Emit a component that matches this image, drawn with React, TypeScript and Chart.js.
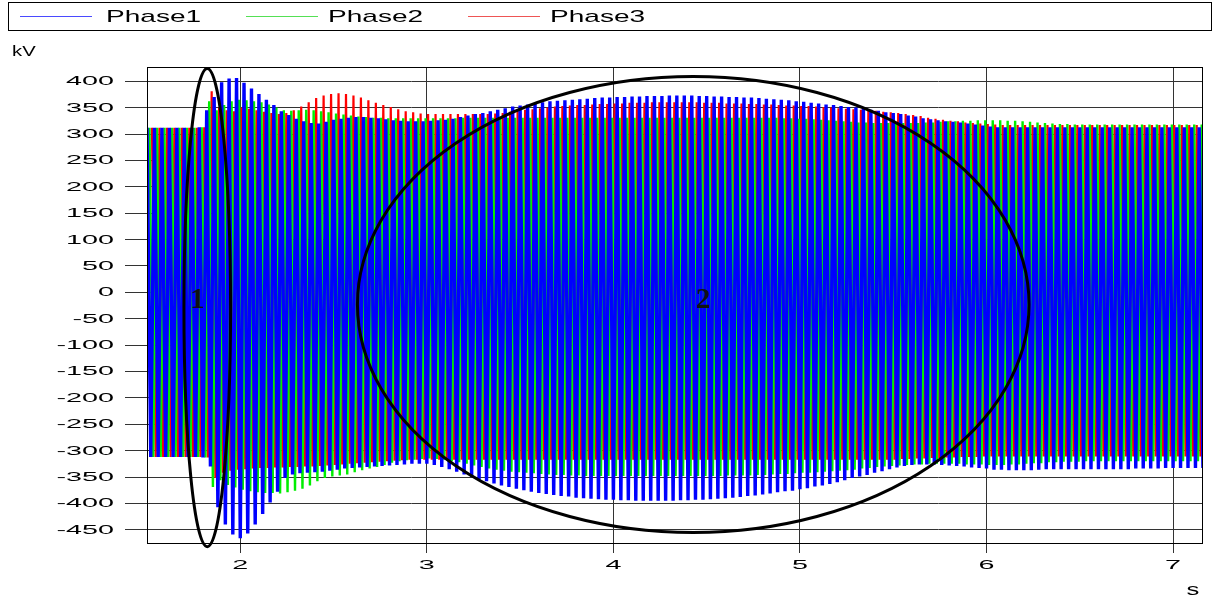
import React, { useEffect, useRef } from 'react';
import { Chart, registerables } from 'chart.js';

Chart.register(...registerables);

// Sampling grid of the envelope readings (s)
const sampleStart = 1.5;
const sampleStep = 0.04;

// Peak values (kV) read per sample, one positive and one negative peak per sample
const phase1Max = [
  312, 312, 312, 312, 312, 312, 312, 313, 345, 370,
  398, 405, 406, 397, 386, 376, 365, 355, 343, 336,
  329, 324, 321, 320, 323, 327, 329, 331, 332, 332,
  331, 330, 328, 326, 325, 324, 324, 324, 325, 326,
  327, 329, 332, 335, 338, 340, 343, 346, 349, 352,
  354, 356, 358, 360, 362, 363, 364, 365, 366, 367,
  368, 369, 369, 370, 370, 371, 371, 372, 372, 372,
  373, 373, 373, 373, 372, 372, 371, 371, 370, 370,
  369, 369, 368, 367, 366, 365, 364, 362, 361, 359,
  358, 356, 355, 353, 351, 350, 348, 346, 344, 341,
  340, 338, 335, 333, 330, 328, 326, 324, 323, 322,
  320, 318, 316, 314, 313, 313, 313, 313, 313, 313,
  313, 313, 313, 313, 313, 313, 313, 313, 313, 313,
  313, 313, 313, 313, 313, 313, 313, 313, 313, 313,
  313, 313,
];
const phase1Min = [
  -312, -312, -312, -312, -312, -312, -312, -313, -330, -407,
  -440, -459, -466, -457, -440, -420, -398, -378, -352, -345,
  -343, -342, -341, -340, -338, -336, -334, -333, -332, -331,
  -330, -329, -328, -327, -326, -325, -325, -325, -327, -331,
  -335, -340, -345, -350, -354, -358, -362, -366, -369, -372,
  -375, -378, -380, -382, -384, -386, -387, -389, -390, -391,
  -392, -393, -393, -394, -394, -395, -395, -395, -395, -395,
  -395, -394, -394, -393, -393, -392, -391, -390, -389, -388,
  -386, -385, -383, -381, -379, -377, -376, -373, -371, -368,
  -366, -363, -360, -356, -352, -349, -346, -342, -339, -335,
  -332, -329, -327, -326, -326, -326, -327, -328, -329, -330,
  -332, -333, -334, -336, -336, -337, -337, -337, -337, -336,
  -335, -335, -335, -335, -335, -335, -335, -335, -335, -335,
  -335, -335, -334, -334, -334, -334, -333, -333, -333, -333,
  -333, -333,
];
const phase2Max = [
  312, 312, 312, 312, 312, 312, 312, 313, 362, 345,
  355, 362, 365, 364, 362, 360, 356, 350, 345, 344,
  345, 346, 345, 343, 341, 339, 337, 335, 333, 332,
  331, 331, 330, 330, 330, 330, 330, 330, 330, 330,
  330, 330, 331, 331, 331, 331, 331, 331, 331, 331,
  331, 331, 331, 331, 331, 331, 331, 331, 331, 331,
  331, 331, 331, 331, 331, 331, 331, 331, 331, 331,
  331, 331, 331, 331, 331, 331, 331, 331, 331, 331,
  331, 331, 331, 331, 331, 330, 330, 329, 329, 328,
  327, 326, 325, 324, 323, 322, 322, 321, 321, 321,
  321, 321, 321, 321, 322, 322, 323, 324, 324, 325,
  325, 326, 326, 326, 326, 325, 325, 324, 323, 322,
  321, 320, 319, 319, 318, 318, 318, 318, 318, 318,
  318, 318, 318, 318, 318, 318, 318, 318, 318, 318,
  318, 318,
];
const phase2Min = [
  -312, -312, -312, -312, -312, -312, -312, -313, -369, -356,
  -365, -370, -374, -377, -379, -380, -380, -381, -379, -376,
  -372, -366, -358, -352, -349, -347, -345, -341, -337, -334,
  -331, -327, -323, -320, -318, -317, -316, -315, -316, -317,
  -320, -322, -325, -328, -331, -334, -336, -338, -340, -341,
  -342, -343, -344, -345, -346, -346, -347, -347, -348, -348,
  -348, -348, -348, -348, -348, -348, -348, -348, -348, -348,
  -348, -348, -348, -348, -348, -348, -348, -347, -347, -347,
  -347, -346, -346, -345, -344, -344, -343, -342, -342, -341,
  -340, -339, -338, -337, -336, -334, -333, -331, -330, -329,
  -328, -327, -326, -326, -325, -325, -325, -325, -325, -326,
  -326, -326, -327, -327, -327, -326, -326, -325, -324, -324,
  -322, -322, -321, -321, -321, -320, -320, -320, -320, -320,
  -320, -320, -320, -320, -320, -320, -320, -320, -320, -320,
  -320, -320,
];
const phase3Max = [
  312, 312, 312, 312, 312, 312, 312, 313, 381, 350,
  345, 343, 350, 348, 345, 342, 340, 338, 340, 345,
  352, 360, 368, 373, 376, 377, 376, 373, 369, 364,
  359, 355, 351, 347, 343, 341, 339, 338, 338, 338,
  338, 338, 338, 338, 338, 338, 339, 340, 342, 344,
  346, 347, 349, 350, 352, 353, 354, 355, 355, 356,
  357, 357, 358, 358, 359, 359, 359, 360, 360, 360,
  360, 360, 360, 360, 359, 359, 359, 358, 358, 358,
  357, 357, 356, 356, 355, 354, 354, 353, 353, 352,
  351, 350, 349, 348, 347, 346, 345, 344, 342, 341,
  340, 338, 336, 334, 331, 329, 327, 325, 324, 322,
  321, 320, 319, 318, 317, 317, 317, 317, 317, 317,
  317, 317, 317, 317, 317, 317, 317, 317, 317, 317,
  317, 317, 317, 317, 317, 317, 317, 317, 317, 317,
  317, 317,
];
const phase3Min = [
  -312, -312, -312, -312, -312, -312, -312, -313, -352, -342,
  -338, -336, -335, -334, -333, -333, -332, -332, -331, -331,
  -330, -330, -329, -328, -327, -326, -325, -324, -323, -322,
  -321, -320, -319, -318, -317, -317, -317, -317, -317, -317,
  -317, -317, -317, -317, -317, -317, -317, -317, -317, -317,
  -317, -317, -317, -317, -317, -317, -317, -317, -317, -317,
  -317, -317, -317, -317, -317, -317, -317, -317, -317, -317,
  -317, -317, -317, -317, -317, -317, -317, -317, -317, -317,
  -317, -317, -317, -317, -317, -317, -317, -317, -317, -317,
  -317, -317, -317, -317, -317, -317, -317, -317, -317, -317,
  -316, -316, -315, -315, -314, -314, -313, -313, -312, -312,
  -312, -311, -311, -311, -311, -311, -311, -311, -311, -311,
  -311, -311, -311, -311, -311, -311, -311, -311, -311, -311,
  -311, -311, -311, -311, -311, -311, -311, -311, -311, -311,
  -311, -311,
];

const seriesNames = ['Phase1', 'Phase2', 'Phase3'];
const seriesColors = ['#0000ff', '#00ee00', '#ff0000'];
const legendLineColors = ['#4a4aff', '#55e055', '#ee5555'];

const xTickValues = [2, 3, 4, 5, 6, 7];
const yTickValues = [400, 350, 300, 250, 200, 150, 100, 50, 0, -50, -100, -150, -200, -250, -300, -350, -400, -450];

const xMin = 1.5;
const xMax = 7.155;
const yMin = -475;
const yMax = 427;

// Annotation ellipses in data units (centre time, centre kV, half-width s, half-height kV)
const ellipseCentersT = [1.823, 4.428];
const ellipseCentersV = [-29, -23];
const ellipseRadiiT = [0.125, 1.80];
const ellipseRadiiV = [453, 432];
const ellipseLabels = ['1', '2'];
const ellipseLabelT = [1.77, 4.48];
const ellipseLabelV = [-16, -16];

function buildWave(maxArr: number[], minArr: number[], phaseIndex: number) {
  const offset = (phaseIndex * sampleStep) / 3;
  const pts: { x: number; y: number }[] = [];
  for (let i = 0; i < maxArr.length; i++) {
    const t = sampleStart + i * sampleStep + offset;
    pts.push({ x: t, y: maxArr[i] });
    pts.push({ x: t + sampleStep / 2, y: minArr[i] });
  }
  return pts;
}

function stretchedText(ctx: CanvasRenderingContext2D, text: string, x: number, y: number, sx: number, align: CanvasTextAlign) {
  ctx.save();
  ctx.translate(x, y);
  ctx.scale(sx, 1);
  ctx.textAlign = align;
  ctx.fillText(text, 0, 0);
  ctx.restore();
}

const decorPlugin = {
  id: 'decor',
  afterDraw(chart: any) {
    const ctx: CanvasRenderingContext2D = chart.ctx;
    const area = chart.chartArea;
    const xs = chart.scales.x;
    const ys = chart.scales.y;
    ctx.save();
    ctx.strokeStyle = '#000';
    ctx.lineWidth = 1;
    ctx.strokeRect(Math.round(area.left) + 0.5, Math.round(area.top) + 0.5, Math.round(area.right - area.left), Math.round(area.bottom - area.top));

    ctx.lineWidth = 3;
    ctx.strokeStyle = '#000';
    for (let i = 0; i < ellipseCentersT.length; i++) {
      const cx = xs.getPixelForValue(ellipseCentersT[i]);
      const cy = ys.getPixelForValue(ellipseCentersV[i]);
      const rx = Math.abs(xs.getPixelForValue(ellipseCentersT[i] + ellipseRadiiT[i]) - cx);
      const ry = Math.abs(ys.getPixelForValue(ellipseCentersV[i] + ellipseRadiiV[i]) - cy);
      ctx.beginPath();
      ctx.ellipse(cx, cy, rx, ry, 0, 0, Math.PI * 2);
      ctx.stroke();
    }
    ctx.fillStyle = '#111';
    ctx.font = 'bold 29px "Liberation Serif", serif';
    ctx.textBaseline = 'middle';
    for (let i = 0; i < ellipseLabels.length; i++) {
      ctx.textAlign = 'center';
      ctx.fillText(ellipseLabels[i], xs.getPixelForValue(ellipseLabelT[i]), ys.getPixelForValue(ellipseLabelV[i]));
    }

    ctx.fillStyle = '#000';
    ctx.font = '12.5px "Liberation Sans", Arial, sans-serif';
    ctx.textBaseline = 'middle';
    for (const v of yTickValues) {
      stretchedText(ctx, String(v), 114, ys.getPixelForValue(v) + 0.5, 2.3, 'right');
    }
    for (const v of xTickValues) {
      stretchedText(ctx, String(v), xs.getPixelForValue(v), 566, 2.3, 'center');
    }
    ctx.textBaseline = 'alphabetic';
    ctx.font = '15px "Liberation Sans", Arial, sans-serif';
    stretchedText(ctx, 'kV', 12, 56, 1.35, 'left');
    ctx.font = '16px "Liberation Sans", Arial, sans-serif';
    stretchedText(ctx, 's', 1193, 595, 1.6, 'center');

    ctx.lineWidth = 1;
    ctx.strokeStyle = '#000';
    ctx.strokeRect(8.5, 2.5, 1203, 28);
    const lineStarts = [20, 246, 468];
    const textStarts = [106, 328, 550];
    ctx.font = '17px "Liberation Sans", Arial, sans-serif';
    ctx.textBaseline = 'middle';
    for (let i = 0; i < seriesNames.length; i++) {
      ctx.strokeStyle = legendLineColors[i];
      ctx.beginPath();
      ctx.moveTo(lineStarts[i], 16.5);
      ctx.lineTo(lineStarts[i] + 72, 16.5);
      ctx.stroke();
      ctx.fillStyle = '#000';
      stretchedText(ctx, seriesNames[i], textStarts[i], 17, 1.65, 'left');
    }
    ctx.restore();
  },
};

export default function App() {
  const canvasRef = useRef<HTMLCanvasElement | null>(null);

  useEffect(() => {
    const canvas = canvasRef.current;
    if (!canvas) return;
    const maxes = [phase1Max, phase2Max, phase3Max];
    const mins = [phase1Min, phase2Min, phase3Min];
    const widths = [3.4, 2.4, 2.2];
    const datasets = seriesNames.map((name, i) => ({
      label: name,
      data: buildWave(maxes[i], mins[i], i),
      borderColor: seriesColors[i],
      backgroundColor: seriesColors[i],
      borderWidth: widths[i],
      borderJoinStyle: 'bevel',
      pointRadius: 0,
      tension: 0,
      fill: false,
    }));
    const chart = new Chart(canvas, {
      type: 'line',
      data: { datasets },
      options: {
        animation: false,
        responsive: false,
        devicePixelRatio: 1,
        events: [],
        layout: { padding: { top: 67, right: 12, left: 0, bottom: 0 } },
        plugins: { legend: { display: false }, tooltip: { enabled: false } },
        scales: {
          x: {
            type: 'linear',
            min: xMin,
            max: xMax,
            afterBuildTicks: (scale: any) => {
              scale.ticks = xTickValues.map((v) => ({ value: v }));
            },
            afterFit: (scale: any) => {
              scale.height = 54;
            },
            ticks: { display: false },
            grid: { color: '#333', lineWidth: 1, tickLength: 10, drawTicks: true },
            border: { display: true, color: '#000', width: 1 },
          },
          y: {
            type: 'linear',
            min: yMin,
            max: yMax,
            afterBuildTicks: (scale: any) => {
              scale.ticks = yTickValues.map((v) => ({ value: v }));
            },
            afterFit: (scale: any) => {
              scale.width = 147;
            },
            ticks: { display: false },
            grid: { color: '#333', lineWidth: 1, tickLength: 22, drawTicks: true },
            border: { display: true, color: '#000', width: 1 },
          },
        },
      },
      plugins: [decorPlugin],
    } as any);
    return () => chart.destroy();
  }, []);

  return (
    <div style={{ position: 'fixed', left: 0, top: 0, width: 1214, height: 597, background: '#fff' }}>
      <canvas ref={canvasRef} width={1214} height={597} style={{ width: 1214, height: 597, display: 'block' }} />
    </div>
  );
}
